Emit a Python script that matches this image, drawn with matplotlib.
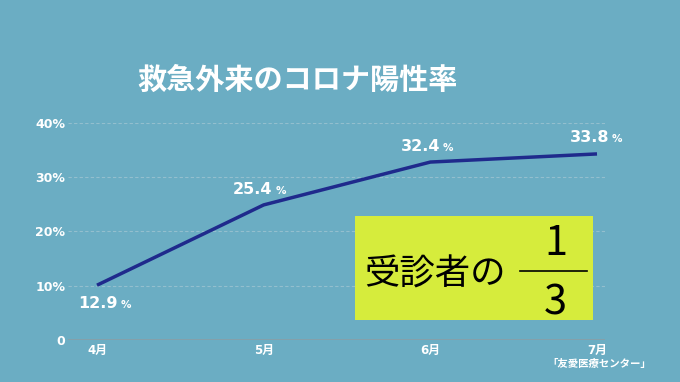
import matplotlib
matplotlib.use("Agg")
import matplotlib.pyplot as plt
from matplotlib.patches import Rectangle

plt.rcParams['font.family'] = ['Noto Sans CJK JP', 'DejaVu Sans']
latin = ['DejaVu Sans', 'Noto Sans CJK JP']

# データ
months = ["4月", "5月", "6月", "7月"]
plotted = [10.1, 24.9, 32.8, 34.3]          # 線の位置
labels = ["12.9", "25.4", "32.4", "33.8"]   # 表示ラベル
label_offsets = [(15, -13), (6.5, 11), (7, 11), (8.6, 12)]  # ポイント単位
yticks = [0, 10, 20, 30, 40]
ytick_labels = ["0", "10%", "20%", "30%", "40%"]

bg = "#6badc3"
line_color = "#1f2a8c"

fig = plt.figure(figsize=(6.8, 3.82), dpi=100)
fig.patch.set_facecolor(bg)
ax = fig.add_axes([68 / 680, 42 / 382, 537 / 680, 217 / 382])
ax.set_facecolor(bg)

x = list(range(len(months)))
ax.plot(x, plotted, color=line_color, lw=2.5, solid_capstyle="butt", zorder=3, clip_on=False)

for xi, yi, lab, (dx, dy) in zip(x, plotted, labels, label_offsets):
    ax.annotate(lab, (xi, yi), xytext=(dx, dy), textcoords="offset points", family=latin,
                ha="right", va="center", color="white", fontsize=11.5, fontweight="bold", zorder=4)
    ax.annotate("%", (xi, yi), xytext=(dx + 2, dy - 1), textcoords="offset points", family=latin,
                ha="left", va="center", color="white", fontsize=7.5, fontweight="bold", zorder=4)

ax.set_xlim(-0.174, 3.048)
ax.set_ylim(0, 40)
ax.set_yticks(yticks)
ax.set_yticklabels(ytick_labels)
ax.set_xticks(x)
ax.set_xticklabels(months)
ax.tick_params(length=0, colors="white", labelsize=9)
ax.tick_params(axis="y", pad=2)
ax.tick_params(axis="x", pad=3, labelsize=8.5)
for lbl in ax.get_xticklabels() + ax.get_yticklabels():
    lbl.set_fontweight("bold")
    lbl.set_family(latin)

for gy in yticks[1:]:
    ax.axhline(gy, color="#93bfce", lw=0.8, ls=(0, (3, 2)), zorder=1)
ax.axhline(0, color="#8a9ea6", lw=1.2, zorder=1)
for s in ax.spines.values():
    s.set_visible(False)

# 黄色のボックス
ax.add_patch(Rectangle((0.534, 0.092), 0.444, 0.479, transform=ax.transAxes,
                       facecolor="#d6ec3c", edgecolor="none", zorder=2))
ax.text(0.551, 0.30, "受診者の", transform=ax.transAxes, ha="left", va="center",
        fontsize=25.5, color="black", zorder=5)
ax.text(0.908, 0.445, "1", transform=ax.transAxes, ha="center", va="center",
        fontsize=30, color="black", zorder=5)
ax.plot([0.841, 0.966], [0.318, 0.318], transform=ax.transAxes, color="black", lw=1.2, zorder=5)
ax.text(0.908, 0.17, "3", transform=ax.transAxes, ha="center", va="center",
        fontsize=30, color="black", zorder=5)

fig.text(0.437, 0.79, "救急外来のコロナ陽性率", ha="center", va="center",
         fontsize=21, fontweight="bold", color="white")
fig.text(0.957, 0.048, "「友愛医療センター」", ha="right", va="center",
         fontsize=7.5, fontweight="bold", color="white")

fig.savefig("out.png", dpi=100, facecolor=bg)
